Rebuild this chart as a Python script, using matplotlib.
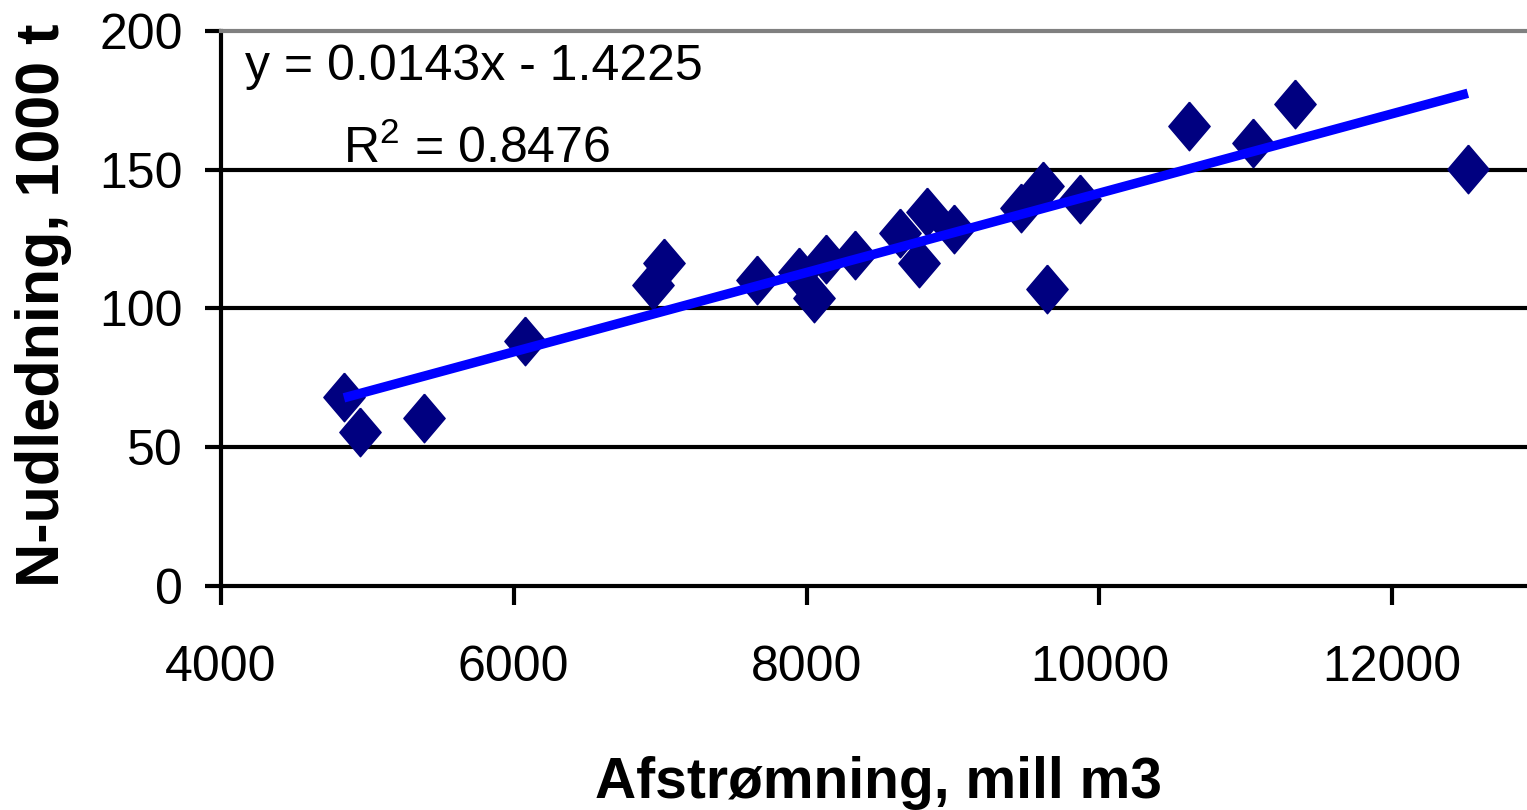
import matplotlib.pyplot as plt
import numpy as np

plt.rcParams['font.family'] = ['Liberation Sans', 'DejaVu Sans']
plt.rcParams['mathtext.fontset'] = 'custom'
plt.rcParams['mathtext.rm'] = 'Liberation Sans'

# Afstrømning (mill m3) og N-udledning (1000 t)
afstroemning = [4841, 4948, 5385, 6074, 6954, 7026, 7661, 7948, 8049, 8132,
                8333, 8640, 8771, 8820, 9004, 9462, 9614, 9639, 9869, 10614,
                11052, 11335, 12516]
n_udledning = [68.1, 55.6, 60.5, 88.3, 108.5, 116.4, 110.3, 113.2, 103.8, 117.8,
               119.3, 127.2, 116.4, 134.8, 128.6, 136.2, 144.1, 107.0, 139.5, 165.8,
               159.6, 173.7, 150.3]

# lineær trendlinje (som i Excel)
slope = 0.0143
intercept = -1.4225
r2 = 0.8476

x_ticks = [4000, 6000, 8000, 10000, 12000]
y_ticks = [0, 50, 100, 150, 200]

W, H = 1527, 810
fig = plt.figure(figsize=(W / 100, H / 100), dpi=100)
ax = fig.add_axes([220.8 / W, 1 - 586 / H, 1 - 220.8 / W, (586 - 31) / H])

# vandrette gitterlinjer
for yv in y_ticks[1:-1]:
    ax.axhline(yv, color='black', lw=3, zorder=1)

# diamant-markør, lidt højere end bred
diamond = [(0, 1), (0.85, 0), (0, -1), (-0.85, 0), (0, 1)]
ax.plot(afstroemning, n_udledning, linestyle='none', marker=diamond,
        markersize=35, color='#000080', mec='#000080', mew=1, zorder=3)

xs = np.array([min(afstroemning), max(afstroemning)])
ax.plot(xs, slope * xs + intercept, color='#0000ff', lw=6.8,
        solid_capstyle='butt', zorder=4)

ax.set_xlim(4000, 12920)
ax.set_ylim(0, 200)
ax.set_xticks(x_ticks)
ax.set_yticks(y_ticks)

ax.spines['right'].set_visible(False)
ax.spines['top'].set_color('#808080')
ax.spines['top'].set_linewidth(3)
ax.spines['left'].set_linewidth(3)
ax.spines['bottom'].set_linewidth(3)

ax.tick_params(axis='y', length=11.5, width=3, pad=16, labelsize=36)
ax.tick_params(axis='x', length=13.7, width=3, pad=29, labelsize=36)

fig.text(44 / W, 1 - 305 / H, 'N-udledning, 1000 t', rotation=90,
         ha='center', va='center', fontsize=44, fontweight='bold')
fig.text(878.5 / W, 1 - 798 / H, 'Afstrømning, mill m3',
         ha='center', va='baseline', fontsize=41, fontweight='bold')

fig.text(474 / W, 1 - 80 / H, f'y = {slope}x - {abs(intercept)}',
         ha='center', va='baseline', fontsize=36)
fig.text(476.5 / W, 1 - 163 / H, r'R$^{\mathbf{\mathrm{2}}}$' + f' = {r2}',
         ha='center', va='baseline', fontsize=36)

fig.savefig('out.png', dpi=100)
